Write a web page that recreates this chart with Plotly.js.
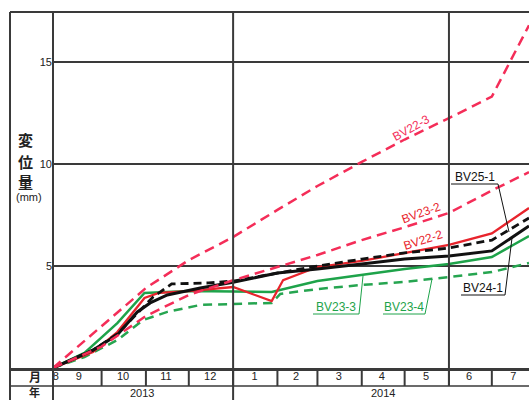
<!DOCTYPE html>
<html>
<head>
<meta charset="utf-8">
<script src="https://cdn.plot.ly/plotly-3.0.1.min.js"></script>
<style>html,body{margin:0;padding:0;background:#fff;}#chart{width:529px;height:400px;}</style>
</head>
<body>
<div id="chart"></div>
<script>
// ---- data (displacement in mm) ----
var bv22_3_x = ['2013-08-28','2013-10-01','2013-11-01','2013-12-01','2014-01-01','2014-02-01','2014-03-01','2014-04-01','2014-05-01','2014-06-01','2014-07-01','2014-07-27'];
var bv22_3_y = [0, 2.06, 3.92, 5.29, 6.42, 7.75, 8.92, 10.1, 11.2, 12.25, 13.3, 16.8];

var bv23_2_x = ['2013-08-28','2013-10-01','2013-11-01','2013-12-01','2014-01-01','2014-02-01','2014-03-01','2014-04-01','2014-05-01','2014-06-01','2014-07-01','2014-07-27'];
var bv23_2_y = [0, 1.05, 2.55, 3.58, 4.3, 4.95, 5.54, 6.27, 6.9, 7.6, 8.7, 9.6];

var bv22_2_x = ['2013-08-28','2013-09-25','2013-10-12','2013-10-31','2013-11-10','2013-12-01','2014-01-01','2014-01-28','2014-02-05','2014-03-01','2014-04-01','2014-05-01','2014-06-01','2014-07-01','2014-07-27'];
var bv22_2_y = [0, 0.78, 1.76, 3.43, 3.68, 3.77, 3.97, 3.28, 4.31, 4.95, 5.25, 5.64, 6.03, 6.6, 7.84];

var bv25_1_x = ['2013-08-28','2013-09-25','2013-10-12','2013-10-28','2013-11-06','2013-11-19','2013-12-15','2014-01-01','2014-02-01','2014-03-01','2014-04-01','2014-05-01','2014-06-01','2014-07-01','2014-07-27'];
var bv25_1_y = [0, 0.88, 1.67, 2.84, 3.48, 4.12, 4.17, 4.26, 4.66, 5.0, 5.34, 5.64, 5.88, 6.27, 7.35];

var bv24_1_x = ['2013-08-28','2013-09-25','2013-10-12','2013-10-26','2013-11-04','2013-11-16','2013-12-09','2014-01-01','2014-02-01','2014-03-01','2014-04-01','2014-05-01','2014-06-01','2014-07-01','2014-07-27'];
var bv24_1_y = [0, 0.88, 1.62, 2.75, 3.19, 3.58, 3.92, 4.2, 4.66, 4.85, 5.1, 5.34, 5.49, 5.74, 6.96];

var bv23_3_x = ['2013-08-28','2013-09-19','2013-10-12','2013-10-31','2013-12-01','2014-01-01','2014-01-28','2014-03-01','2014-04-01','2014-05-01','2014-06-01','2014-07-01','2014-07-27'];
var bv23_3_y = [0, 0.74, 2.2, 3.68, 3.77, 3.73, 3.73, 4.26, 4.56, 4.85, 5.1, 5.44, 6.47];

var bv23_4_x = ['2013-08-28','2013-09-19','2013-10-12','2013-10-30','2013-11-16','2013-12-09','2014-01-01','2014-01-28','2014-02-03','2014-03-01','2014-04-01','2014-05-01','2014-06-01','2014-07-01','2014-07-27'];
var bv23_4_y = [0, 0.54, 1.37, 2.35, 2.75, 3.09, 3.14, 3.19, 3.63, 3.87, 4.07, 4.22, 4.46, 4.7, 5.15];

// ---- axis labels ----
var monthTickDates = ['2013-08-30','2013-09-15','2013-10-16','2013-11-15','2013-12-16','2014-01-16','2014-02-14','2014-03-16','2014-04-15','2014-05-16','2014-06-15','2014-07-16'];
var monthTickText = ['8','9','10','11','12','1','2','3','4','5','6','7'];
var monthStarts = ['2013-10-01','2013-11-01','2013-12-01','2014-01-01','2014-02-01','2014-03-01','2014-04-01','2014-05-01','2014-06-01','2014-07-01'];
var yearLabels = ['2013','2014'];
var yTickVals = [5, 10, 15];
var yTickText = ['5','10','15'];
var yTitleChars = ['変','位','量'];
var seriesNames = ['BV22-3','BV23-2','BV22-2','BV25-1','BV24-1','BV23-3','BV23-4'];

// ---- styling ----
var RED_D = '#f42d58', RED_S = '#e8242c', GREEN = '#1ea34a', GREEN_D = '#26a550', BLACK = '#111111';
var LINEC = '#3a3a3a';
var FONT = 'Liberation Sans, Arial, sans-serif';
var CJK = 'Noto Sans CJK JP, sans-serif';

function tr(x, y, name, color, width, dash) {
  return {x: x, y: y, name: name, type: 'scatter', mode: 'lines',
          line: {color: color, width: width, dash: dash}, hoverinfo: 'skip'};
}
var data = [
  tr(bv23_4_x, bv23_4_y, seriesNames[6], GREEN_D, 2.5, '9px,6px'),
  tr(bv23_3_x, bv23_3_y, seriesNames[5], GREEN, 2.5, 'solid'),
  tr(bv22_2_x, bv22_2_y, seriesNames[2], RED_S, 2.3, 'solid'),
  tr(bv24_1_x, bv24_1_y, seriesNames[4], BLACK, 3, 'solid'),
  tr(bv25_1_x, bv25_1_y, seriesNames[3], BLACK, 2.8, '8px,5px'),
  tr(bv23_2_x, bv23_2_y, seriesNames[1], RED_D, 2.5, '10px,6px'),
  tr(bv22_3_x, bv22_3_y, seriesNames[0], RED_D, 2.5, '10px,6px')
];

// layout helpers: pixel -> paper
var L = 53, R = 529, T = 12, B = 368;
function PX(x) { return (x - L) / (R - L); }
function PY(y) { return (B - y) / (B - T); }

var shapes = [];
function seg(x0, y0, x1, y1, color, w) {
  shapes.push({type: 'line', xref: 'paper', yref: 'paper', x0: PX(x0), y0: PY(y0), x1: PX(x1), y1: PY(y1),
               line: {color: color, width: w}});
}
// frame
seg(10, 12, 529, 12, LINEC, 2);
seg(10, 12, 10, 400, LINEC, 2);
seg(53, 12, 53, 400, LINEC, 2);
seg(10, 369.5, 529, 369.5, LINEC, 3);
seg(10, 386, 529, 386, LINEC, 1.5);
// month dividers
monthStarts.forEach(function (d) {
  shapes.push({type: 'line', xref: 'x', yref: 'paper', x0: d, x1: d, y0: PY(386), y1: PY(370),
               line: {color: LINEC, width: 2}});
});
// major verticals
shapes.push({type: 'line', xref: 'x', yref: 'paper', x0: '2014-01-01', x1: '2014-01-01', y0: PY(400), y1: 1,
             line: {color: LINEC, width: 2}});
shapes.push({type: 'line', xref: 'x', yref: 'paper', x0: '2014-06-01', x1: '2014-06-01', y0: PY(386), y1: 1,
             line: {color: LINEC, width: 2}});
// label underlines + leaders
seg(451, 184, 498, 184, BLACK, 1);  seg(498, 184, 509, 232, BLACK, 1);   // BV25-1
seg(461, 295, 505, 295, BLACK, 1);  seg(505, 295, 512, 238, BLACK, 1);   // BV24-1
seg(313, 314, 359, 314, GREEN, 1);  seg(359, 314, 363, 276, GREEN, 1);   // BV23-3
seg(383, 314, 425, 314, GREEN, 1);  seg(425, 314, 432, 279, GREEN, 1);   // BV23-4

var ann = [];
function txt(x, y, s, size, color, angle, family, weight) {
  ann.push({xref: 'paper', yref: 'paper', x: PX(x), y: PY(y), text: s, showarrow: false,
            xanchor: 'center', yanchor: 'middle', textangle: angle || 0,
            font: {size: size, color: color, family: family || FONT, weight: weight || 'normal'}});
}
txt(25, 139, yTitleChars[0], 15, '#222', 0, CJK, 'bold');
txt(25, 161, yTitleChars[1], 15, '#222', 0, CJK, 'bold');
txt(25, 181, yTitleChars[2], 15, '#222', 0, CJK, 'bold');
txt(29, 197, '(mm)', 11, '#222');
txt(35, 377, '月', 12, '#222', 0, CJK, 'bold');
txt(34, 392, '年', 11, '#222', 0, CJK, 'bold');
txt(142, 393, yearLabels[0], 11, '#222');
txt(383, 393, yearLabels[1], 11, '#222');
txt(411, 128, seriesNames[0], 12, RED_D, -29);
txt(421, 213, seriesNames[1], 12, RED_S, -20);
txt(423, 240, seriesNames[2], 12, RED_S, -18);
txt(475, 177, seriesNames[3], 12, BLACK);
txt(483, 288, seriesNames[4], 12, BLACK);
txt(336, 307, seriesNames[5], 12, GREEN);
txt(404, 307, seriesNames[6], 12, GREEN);

var layout = {
  width: 529, height: 400,
  margin: {l: L, r: 529 - R, t: T, b: 400 - B},
  paper_bgcolor: '#ffffff', plot_bgcolor: '#ffffff',
  showlegend: false,
  font: {family: FONT, color: '#222'},
  xaxis: {type: 'date', range: ['2013-08-28', '2014-07-27'], tickmode: 'array',
          tickvals: monthTickDates, ticktext: monthTickText, ticks: '', showgrid: false,
          zeroline: false, showline: false, tickfont: {size: 11, color: '#222', family: FONT}},
  yaxis: {range: [0, 17.45], tickmode: 'array', tickvals: yTickVals, ticktext: yTickText,
          ticks: '', showgrid: true, gridcolor: LINEC, gridwidth: 2, zeroline: false,
          showline: false, tickfont: {size: 11, color: '#222', family: FONT}},
  shapes: shapes,
  annotations: ann
};
Plotly.newPlot('chart', data, layout, {displayModeBar: false, staticPlot: true});
</script>
</body>
</html>
